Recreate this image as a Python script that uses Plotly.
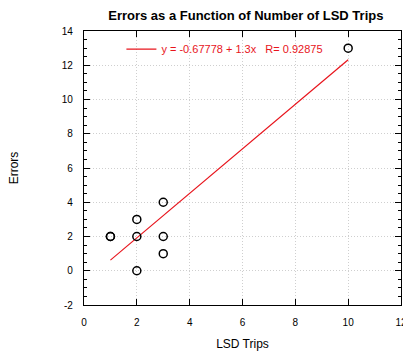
import plotly.graph_objects as go

lsd_trips = [1, 1, 2, 2, 2, 3, 3, 3, 10]
errors = [2, 2, 0, 2, 3, 1, 2, 4, 13]
intercept = -0.67778
slope = 1.3
r_value = 0.92875
fit_x = [1, 10]
fit_y = [intercept + slope * x for x in fit_x]

x_ticks = [0, 2, 4, 6, 8, 10, 12]
y_ticks = [-2, 0, 2, 4, 6, 8, 10, 12, 14]
x_tick_labels = [str(v) for v in x_ticks]
y_tick_labels = [str(v) for v in y_ticks]

FONT = "Liberation Sans, Arial, Helvetica, sans-serif"

fig = go.Figure()
fig.add_trace(go.Scatter(
    x=fit_x, y=fit_y, mode="lines",
    line=dict(color="#e8141c", width=1.2),
    name=f"y = {intercept} + {slope}x   R= {r_value}",
    showlegend=True,
))
fig.add_trace(go.Scatter(
    x=lsd_trips, y=errors, mode="markers",
    marker=dict(symbol="circle-open", size=8, color="black", line=dict(width=1.5)),
    showlegend=False, cliponaxis=False,
))

axis_common = dict(
    showline=True, linecolor="black", linewidth=1.2, mirror="allticks",
    ticks="inside", ticklen=6, tickcolor="black", tickwidth=1,
    showgrid=True, gridcolor="#cfcfcf", griddash="1px,2px", gridwidth=1,
    zeroline=False, tickfont=dict(family=FONT, size=10, color="black"),
    ticklabelstandoff=8, automargin=False, ticklabeloverflow="allow",
)

fig.update_xaxes(range=[0, 12], tickmode="array", tickvals=x_ticks, ticktext=x_tick_labels,
                 title=dict(text="LSD Trips", font=dict(family=FONT, size=12, color="black"), standoff=12),
                 **axis_common)
fig.update_yaxes(range=[-2, 14], tickmode="array", tickvals=y_ticks, ticktext=y_tick_labels,
                 minor=dict(dtick=0.5, tick0=0, ticks="inside", ticklen=3, tickcolor="black", showgrid=False),
                 title=dict(text="Errors", font=dict(family=FONT, size=12, color="black"), standoff=40),
                 **axis_common)

fig.update_layout(
    width=403, height=354,
    margin=dict(l=84, r=2, t=31, b=49),
    paper_bgcolor="white", plot_bgcolor="white",
    title=dict(text="<b>Errors as a Function of Number of LSD Trips</b>",
               font=dict(family=FONT, size=13, color="black"),
               x=0.61, xanchor="center", xref="container", y=0.955, yanchor="middle",
               automargin=False),
    legend=dict(x=0.118, y=0.934, xanchor="left", yanchor="middle",
                bgcolor="rgba(0,0,0,0)", borderwidth=0,
                font=dict(family=FONT, size=11, color="#e8141c")),
    showlegend=True,
)

fig.write_html("out.html", config={"displayModeBar": False},
               post_script="document.body.style.margin='0';document.body.style.overflow='hidden';")
